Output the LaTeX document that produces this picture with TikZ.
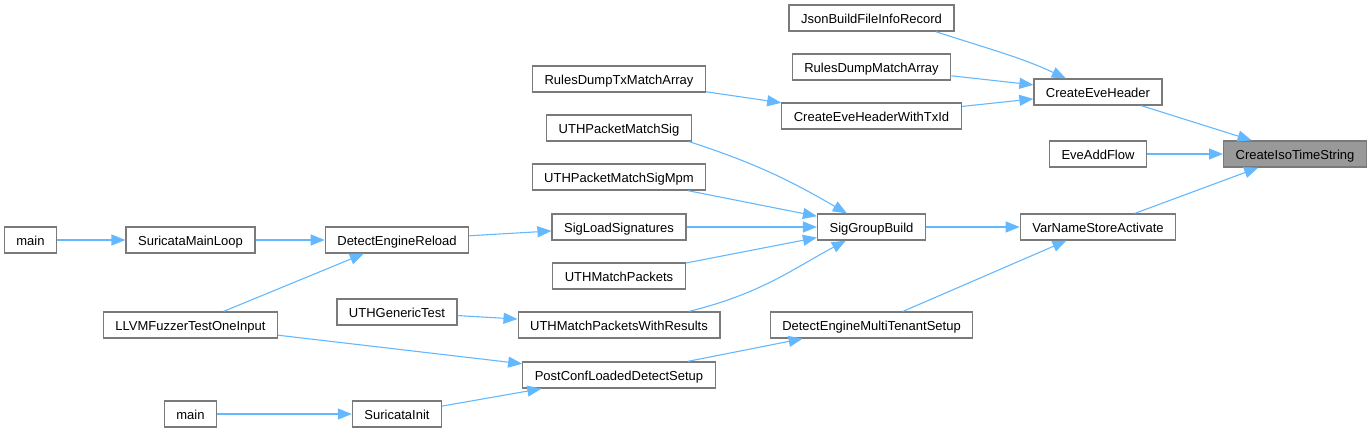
\documentclass[tikz,border=0pt]{standalone}
\usepackage{fontspec}
\setmainfont{Liberation Sans}
\usetikzlibrary{arrows.meta}
\definecolor{edgeblue}{HTML}{63B8FF}
\definecolor{boxline}{HTML}{7A7A7A}
\definecolor{rootfill}{HTML}{999999}
\tikzset{
  fnbox/.style={draw=boxline, line width=1.3pt, fill=white, rectangle,
    minimum height=26pt, inner xsep=12pt, inner ysep=0pt,
    text height=10pt, text depth=0pt,
    font=\fontsize{13}{15}\selectfont, text=black},
  rootbox/.style={fnbox, fill=rootfill},
  edge/.style={draw=edgeblue, line width=1.1pt,
    -{Triangle[length=14pt,width=11pt]}}
}
\begin{document}
\begin{tikzpicture}[x=1pt,y=1pt]
\useasboundingbox (0,0) rectangle (1372,-432);
% rank 0
\node[rootbox] (cit) at (1295,-154) {CreateIsoTimeString};
% rank 1
\node[fnbox] (ceh) at (1098,-92) {CreateEveHeader};
\node[fnbox] (eaf) at (1098,-154) {EveAddFlow};
\node[fnbox] (vnsa) at (1098,-227) {VarNameStoreActivate};
% rank 2
\node[fnbox] (jbf) at (871.5,-18) {JsonBuildFileInfoRecord};
\node[fnbox] (rdma) at (871.5,-67) {RulesDumpMatchArray};
\node[fnbox] (cehtx) at (871.5,-116) {CreateEveHeaderWithTxId};
\node[fnbox] (sgb) at (871.5,-227) {SigGroupBuild};
\node[fnbox] (demts) at (871.5,-325) {DetectEngineMultiTenantSetup};
% rank 3
\node[fnbox] (rdtx) at (619,-79) {RulesDumpTxMatchArray};
\node[fnbox] (uthpms) at (619,-128) {UTHPacketMatchSig};
\node[fnbox] (uthpmsm) at (619,-177) {UTHPacketMatchSigMpm};
\node[fnbox] (sls) at (619,-227) {SigLoadSignatures};
\node[fnbox] (uthmp) at (619,-276) {UTHMatchPackets};
\node[fnbox] (uthmpwr) at (619,-325) {UTHMatchPacketsWithResults};
\node[fnbox] (pcl) at (619,-375) {PostConfLoadedDetectSetup};
% rank 4
\node[fnbox] (der) at (397,-240) {DetectEngineReload};
\node[fnbox] (uthgt) at (397,-312) {UTHGenericTest};
\node[fnbox] (sinit) at (397,-414) {SuricataInit};
% rank 5
\node[fnbox] (sml) at (190.5,-240) {SuricataMainLoop};
\node[fnbox] (llvm) at (190.5,-325) {LLVMFuzzerTestOneInput};
\node[fnbox] (main2) at (190.5,-414) {main};
% rank 6
\node[fnbox] (main1) at (30.5,-240) {main};

% edges into CreateIsoTimeString
\draw[edge] (ceh) -- (cit);
\draw[edge] (eaf) -- (cit);
\draw[edge] (vnsa) -- (cit);
% into CreateEveHeader
\draw[edge] (jbf.-12) .. controls +(-18:60) and +(155:50) .. (ceh.157);
\draw[edge] (rdma) -- (ceh);
\draw[edge] (cehtx) -- (ceh);
\draw[edge] (rdtx) -- (cehtx);
% into SigGroupBuild
\draw[edge] (uthpms.-11) .. controls +(-18:75) and +(150:60) .. (sgb.151);
\draw[edge] (uthpmsm) -- (sgb);
\draw[edge] (sls) -- (sgb);
\draw[edge] (uthmp) -- (sgb);
\draw[edge] (uthmpwr.11) .. controls +(14:75) and +(-152:60) .. (sgb.-152);
% into VarNameStoreActivate
\draw[edge] (sgb) -- (vnsa);
\draw[edge] (demts) -- (vnsa);
% left part
\draw[edge] (der) -- (sls);
\draw[edge] (uthgt) -- (uthmpwr);
\draw[edge] (pcl) -- (demts);
\draw[edge] (main1) -- (sml);
\draw[edge] (sml) -- (der);
\draw[edge] (llvm) -- (der);
\draw[edge] (llvm) -- (pcl);
\draw[edge] (main2) -- (sinit);
\draw[edge] (sinit) -- (pcl);
\end{tikzpicture}
\end{document}
